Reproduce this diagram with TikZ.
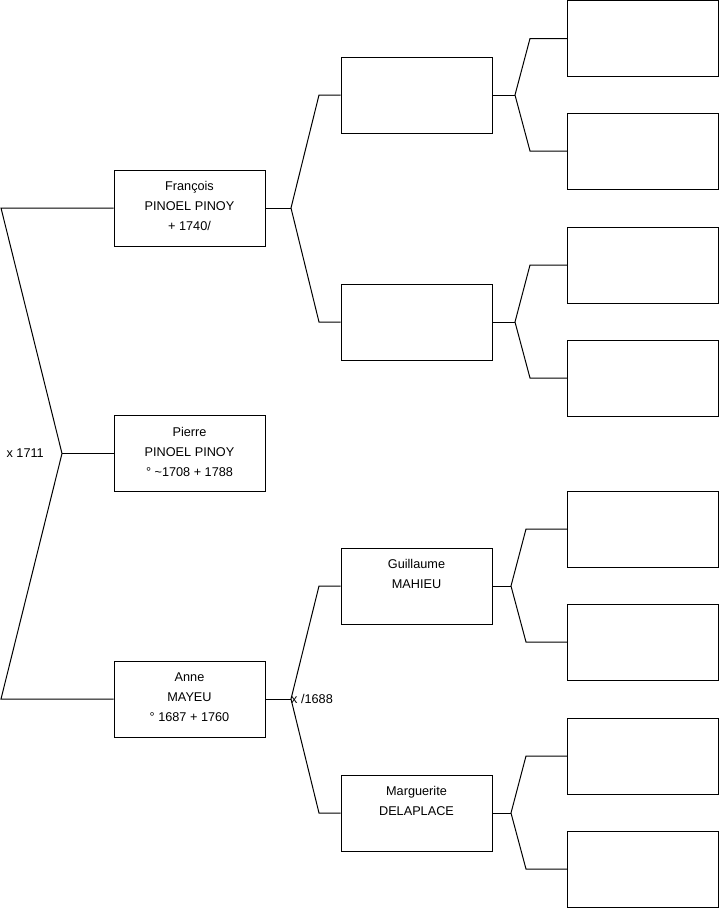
\documentclass[tikz,border=0pt]{standalone}
\usepackage{fontspec}
\setmainfont{Liberation Sans}
\usetikzlibrary{positioning}

\tikzset{
  person/.style={draw, line width=1pt, minimum width=151pt, minimum height=76pt, inner sep=0pt},
  names/.style={align=center, inner sep=0pt, font=\fontsize{12.7}{20}\selectfont},
  link/.style={line width=1pt}
}

\begin{document}
\begin{tikzpicture}[x=1pt,y=-1pt]
  \useasboundingbox (0,0) rectangle (719,908);

  % first column
  \node[person] (francois) at (189.5,208) {};
  \node[person] (pierre) at (189.5,453.5) {};
  \node[person] (anne) at (189.5,699) {};
  \node[names, below=12pt of francois.north] {François\\PINOEL PINOY\\+ 1740/};
  \node[names, below=12pt of pierre.north] {Pierre\\PINOEL PINOY\\° \textasciitilde1708 + 1788};
  \node[names, below=12pt of anne.north] {Anne\\MAYEU\\° 1687 + 1760};

  % second column
  \node[person] (ffather) at (416.5,95) {};
  \node[person] (fmother) at (416.5,322) {};
  \node[person] (guillaume) at (416.5,586) {};
  \node[person] (marguerite) at (416.5,813) {};
  \node[names, below=12pt of guillaume.north] {Guillaume\\MAHIEU};
  \node[names, below=12pt of marguerite.north] {Marguerite\\DELAPLACE};

  % third column
  \node[person] (gp1) at (643,38.5) {};
  \node[person] (gp2) at (643,151) {};
  \node[person] (gp3) at (643,265) {};
  \node[person] (gp4) at (643,378) {};
  \node[person] (gp5) at (643,529) {};
  \node[person] (gp6) at (643,642) {};
  \node[person] (gp7) at (643,756) {};
  \node[person] (gp8) at (643,869) {};

  % pierre and his parents
  \coordinate (rootup) at (1,208);
  \coordinate (root) at (62,453.5);
  \coordinate (rootdown) at (1,699);
  \draw[link] (francois.west) -- (rootup) -- (root) -- (rootdown) -- (anne.west);
  \draw[link] (root) -- (pierre.west);
  \node[names, anchor=east] at (44,453.5) {x 1711};

  % parents of francois
  \coordinate (fj) at (291,208);
  \coordinate (fup) at (319,95);
  \coordinate (fdown) at (319,322);
  \draw[link] (francois.east) -- (fj);
  \draw[link] (ffather.west) -- (fup) -- (fj) -- (fdown) -- (fmother.west);

  % parents of anne
  \coordinate (aj) at (291,699);
  \coordinate (aup) at (319,586);
  \coordinate (adown) at (319,813);
  \draw[link] (anne.east) -- (aj);
  \draw[link] (guillaume.west) -- (aup) -- (aj) -- (adown) -- (marguerite.west);
  \node[names, anchor=west] at (aj) {x /1688};

  % third generation
  \coordinate (j1) at (515,95);
  \coordinate (j1up) at (530,38.5);
  \coordinate (j1down) at (530,151);
  \draw[link] (ffather.east) -- (j1);
  \draw[link] (gp1.west) -- (j1up) -- (j1) -- (j1down) -- (gp2.west);

  \coordinate (j2) at (515,322);
  \coordinate (j2up) at (530,265);
  \coordinate (j2down) at (530,378);
  \draw[link] (fmother.east) -- (j2);
  \draw[link] (gp3.west) -- (j2up) -- (j2) -- (j2down) -- (gp4.west);

  \coordinate (j3) at (511,586);
  \coordinate (j3up) at (526,529);
  \coordinate (j3down) at (526,642);
  \draw[link] (guillaume.east) -- (j3);
  \draw[link] (gp5.west) -- (j3up) -- (j3) -- (j3down) -- (gp6.west);

  \coordinate (j4) at (511,813);
  \coordinate (j4up) at (526,756);
  \coordinate (j4down) at (526,869);
  \draw[link] (marguerite.east) -- (j4);
  \draw[link] (gp7.west) -- (j4up) -- (j4) -- (j4down) -- (gp8.west);
\end{tikzpicture}
\end{document}
